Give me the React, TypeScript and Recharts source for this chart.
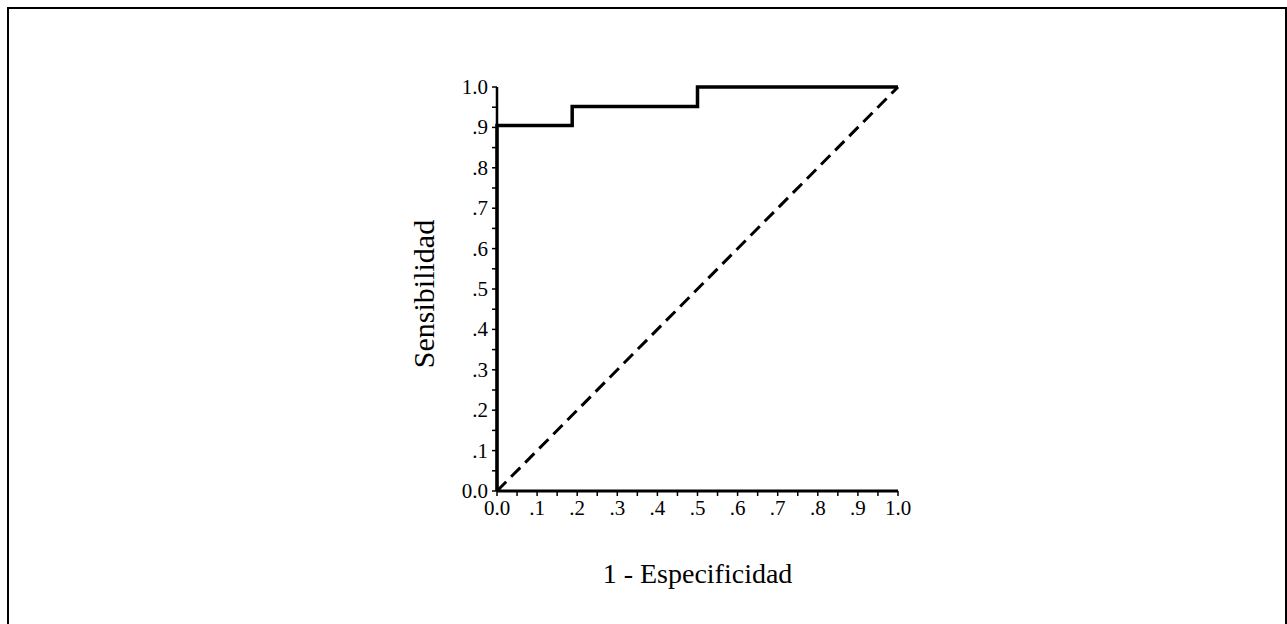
import { Label, Line, LineChart, XAxis, YAxis } from 'recharts'

// ROC step curve (1 - specificity, sensitivity)
const rocFpr = [0, 0, 0.1875, 0.1875, 0.5, 0.5, 1.0]
const rocTpr = [0, 0.905, 0.905, 0.952, 0.952, 1.0, 1.0]

// reference diagonal
const diagFpr = [0, 1]
const diagTpr = [0, 1]

const majorTicks = [0, 0.1, 0.2, 0.3, 0.4, 0.5, 0.6, 0.7, 0.8, 0.9, 1.0]
const minorTicks = [0.05, 0.15, 0.25, 0.35, 0.45, 0.55, 0.65, 0.75, 0.85, 0.95]

const roc = rocFpr.map((x, i) => ({ x, y: rocTpr[i] }))
const diag = diagFpr.map((x, i) => ({ x, y: diagTpr[i] }))
const allTicks = [...majorTicks, ...minorTicks].sort((a, b) => a - b)

const FONT = '"Liberation Serif", "Times New Roman", serif'

const fmt = (v: number) => {
  if (Math.abs(v) < 1e-9) return '0.0'
  if (Math.abs(v - 1) < 1e-9) return '1.0'
  return '.' + Math.round(v * 10)
}
const isMajor = (v: number) => majorTicks.some((m) => Math.abs(m - v) < 1e-9)

const XTick = (props: any) => {
  const { x, y, payload } = props
  const v = payload.value
  return (
    <g>
      <line x1={x} x2={x} y1={y - 8} y2={y - 3} stroke="#000" strokeWidth={1.5} />
      {isMajor(v) && (
        <text x={x} y={y + 16} textAnchor="middle" fontSize={21} fontFamily={FONT} fill="#000">
          {fmt(v)}
        </text>
      )}
    </g>
  )
}

const YTick = (props: any) => {
  const { x, y, payload } = props
  const v = payload.value
  return (
    <g>
      <line x1={x + 3} x2={x + 8} y1={y} y2={y} stroke="#000" strokeWidth={1.5} />
      {isMajor(v) && (
        <text x={x - 1} y={y + 7} textAnchor="end" fontSize={21} fontFamily={FONT} fill="#000">
          {fmt(v)}
        </text>
      )}
    </g>
  )
}

export default function App() {
  return (
    <div style={{ position: 'absolute', left: 0, top: 0, width: 1287, height: 624, overflow: 'hidden', background: '#fff' }}>
      <div
        style={{
          position: 'absolute',
          left: 7,
          top: 7,
          width: 1276,
          height: 640,
          border: '2px solid #000',
        }}
      />
      <div style={{ position: 'absolute', left: 0, top: 0 }}>
        <LineChart width={1287} height={624} margin={{ top: 87, right: 389, bottom: 103, left: 437 }}>
          <XAxis
            type="number"
            dataKey="x"
            domain={[0, 1]}
            ticks={allTicks}
            interval={0}
            height={30}
            tick={<XTick />}
            tickLine={false}
            axisLine={{ stroke: '#000', strokeWidth: 3 }}
            allowDuplicatedCategory={false}
          >
            <Label
              content={({ viewBox }: any) => (
                <text
                  x={viewBox.x + viewBox.width / 2}
                  y={viewBox.y + 92}
                  textAnchor="middle"
                  fontSize={28}
                  fontFamily={FONT}
                  fill="#000"
                >
                  1 - Especificidad
                </text>
              )}
            />
          </XAxis>
          <YAxis
            type="number"
            dataKey="y"
            domain={[0, 1]}
            ticks={allTicks}
            interval={0}
            width={60}
            tick={<YTick />}
            tickLine={false}
            axisLine={{ stroke: '#000', strokeWidth: 2.5 }}
          >
            <Label
              content={({ viewBox }: any) => {
                const cx = 434
                const cy = viewBox.y + viewBox.height / 2 + 5
                return (
                  <text
                    x={cx}
                    y={cy}
                    transform={`rotate(-90 ${cx} ${cy})`}
                    textAnchor="middle"
                    fontSize={30}
                    fontFamily={FONT}
                    fill="#000"
                  >
                    Sensibilidad
                  </text>
                )
              }}
            />
          </YAxis>
          <Line
            data={diag}
            dataKey="y"
            type="linear"
            stroke="#000"
            strokeWidth={3}
            strokeDasharray="13 7"
            dot={false}
            isAnimationActive={false}
          />
          <Line
            data={roc}
            dataKey="y"
            type="linear"
            stroke="#000"
            strokeWidth={3.5}
            dot={false}
            isAnimationActive={false}
          />
        </LineChart>
      </div>
    </div>
  )
}
